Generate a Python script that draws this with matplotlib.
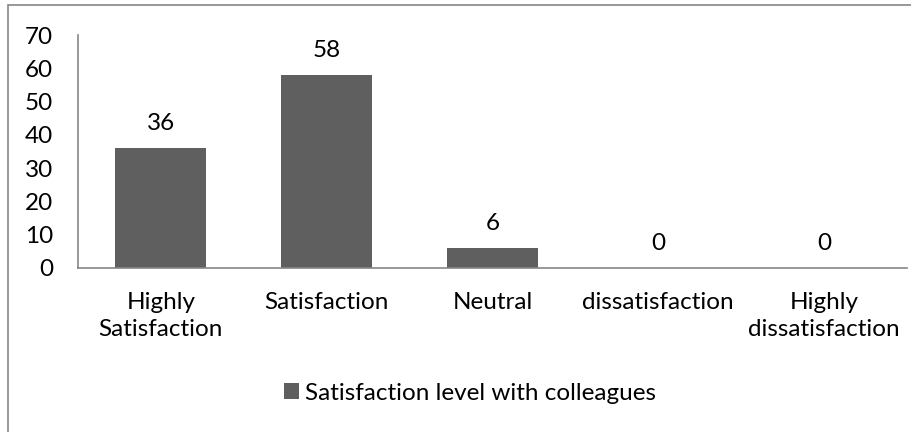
import matplotlib
matplotlib.use("Agg")
import matplotlib.pyplot as plt
from matplotlib.patches import Rectangle, Patch

categories = ["Highly\nSatisfaction", "Satisfaction", "Neutral", "dissatisfaction", "Highly\ndissatisfaction"]
values = [36, 58, 6, 0, 0]
series_name = "Satisfaction level with colleagues"
yticks = [0, 10, 20, 30, 40, 50, 60, 70]

plt.rcParams['font.family'] = ['Lato', 'DejaVu Sans']
FS = 17.5
W, H = 911, 432
fig = plt.figure(figsize=(W/100, H/100), dpi=100)
ax = fig.add_axes([78/W, 1-268/H, (907-78)/W, (268-35)/H])

bar_color = "#5f5f5f"
x = list(range(len(categories)))
bars = ax.bar(x, values, width=0.55, color=bar_color, zorder=2)
for xi, v in zip(x, values):
    ax.annotate(str(v), (xi, v), xytext=(0, 10), textcoords="offset points",
                ha="center", va="bottom", fontsize=FS, color="black")

ax.set_xlim(-0.5, len(categories)-0.5)
ax.set_ylim(0, 70)
ax.set_yticks(yticks)
ax.set_yticklabels([str(t) for t in yticks], fontsize=FS)
ax.set_xticks(x)
ax.set_xticklabels(categories, fontsize=FS, linespacing=1.35)
ax.tick_params(axis='both', length=0, colors="black")
ax.tick_params(axis='y', pad=18)
ax.tick_params(axis='x', pad=17)
for s in ["top", "right"]:
    ax.spines[s].set_visible(False)
for s in ["left", "bottom"]:
    ax.spines[s].set_color("#868686")
    ax.spines[s].set_linewidth(1.2)

leg = fig.legend(handles=[Patch(facecolor=bar_color, label=series_name)],
                 loc="center", bbox_to_anchor=(470/W, 1-393/H), frameon=False,
                 fontsize=FS, handlelength=0.6, handleheight=0.6, handletextpad=0.25)

fig.patches.append(Rectangle((8/W, -0.1), 1.2, 1 - 5/H + 0.1, transform=fig.transFigure,
                             fill=False, edgecolor="#868686", linewidth=1.2))

fig.savefig("out.png", dpi=100)
